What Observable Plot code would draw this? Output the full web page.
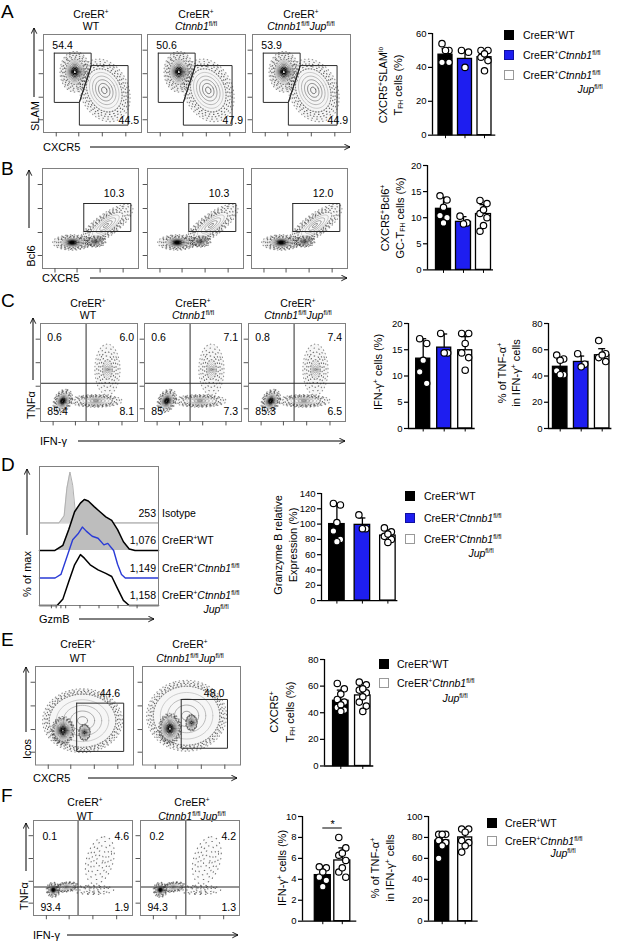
<!DOCTYPE html>
<html><head><meta charset="utf-8">
<script src="https://cdn.jsdelivr.net/npm/d3@7"></script>
<script src="https://cdn.jsdelivr.net/npm/@observablehq/plot@0.6"></script>
<style>
body{margin:0;background:#fff;}
#fig{position:relative;width:617px;height:941px;overflow:hidden;background:#fff;font-family:"Liberation Sans",Arial,sans-serif;color:#000;}
.t{position:absolute;white-space:nowrap;line-height:1;}
.t sup{font-size:0.62em;vertical-align:0.55em;line-height:0;}
.t sub{font-size:0.62em;vertical-align:-0.2em;line-height:0;}
.sq{position:absolute;box-sizing:border-box;border:1px solid #000;}
</style></head>
<body><div id="fig"></div>
<script>
// ---------------- DATA ----------------
const groups3 = ["CreER+WT", "CreER+Ctnnb1fl/fl", "CreER+Ctnnb1fl/fl Jupfl/fl"];
const groups2 = ["CreER+WT", "CreER+Ctnnb1fl/fl Jupfl/fl"];
const colors3 = ["#000000", "#1e1ef0", "#ffffff"];
const colors2 = ["#000000", "#ffffff"];

// Panel A
const aPctHi = ["54.4", "50.6", "53.9"];
const aPctLo = ["44.5", "47.9", "44.9"];
const aMean = [47.5, 45, 46];
const aSD = [3.5, 5, 3];
const aDots = [[54, 50, 50, 43, 43], [50, 49, 40], [50, 50, 48, 46, 44, 38]];
const aGateHi = [[0.11,0.81],[0.486,0.81],[0.486,0.672],[0.366,0.307],[0.11,0.307],[0.11,0.81]];
const aGateLo = [[0.486,0.683],[0.863,0.683],[0.863,0.075],[0.366,0.075],[0.366,0.307],[0.486,0.683]];
const aBlobs = [
  {cx:0.32, cy:0.62, rx:0.095, ry:0.13, a:0, d:1, sp:1.6},
  {cx:0.62, cy:0.43, rx:0.17, ry:0.23, a:25, d:0.45, sp:1.45}
];

// Panel B
const bPct = ["10.3", "10.3", "12.0"];
const bMean = [11.7, 9.2, 10.7];
const bSD = [2.2, 1.0, 1.8];
const bDots = [[14.2, 13.4, 12.0, 10.4, 10.0, 9.0], [10.3, 9.0, 8.8], [13.3, 12.7, 11.5, 10.8, 10.0, 8.5, 7.4]];
const bGate = [[0.43,0.65],[0.92,0.65],[0.92,0.37],[0.43,0.37],[0.43,0.65]];
const bBlobs = [
  {cx:0.31, cy:0.26, rx:0.12, ry:0.045, a:0, d:1, sp:1.7},
  {cx:0.55, cy:0.27, rx:0.07, ry:0.035, a:0, d:0.6, sp:1.6},
  {cx:0.66, cy:0.43, rx:0.21, ry:0.07, a:35, d:0.3, sp:1.6}
];

// Panel C
const cQuad = [["0.6","6.0","85.4","8.1"], ["0.6","7.1","85","7.3"], ["0.8","7.4","85.3","6.5"]];
const cIfnMean = [13.3, 15.4, 14.9];
const cIfnSD = [3.8, 2.6, 2.6];
const cIfnDots = [[17.1, 16.2, 13.0, 10.8, 8.6], [18.1, 14.4, 14.4], [18.1, 18.1, 16.2, 14.4, 13.5, 11.1]];
const cTnfMean = [47, 50.7, 55.8];
const cTnfSD = [5.5, 4.5, 5];
const cTnfDots = [[56, 53, 52, 44, 41, 41], [57, 49, 47], [67, 57, 56, 54, 51]];
const cBlobs = [
  {cx:0.23, cy:0.21, rx:0.06, ry:0.085, a:-30, d:1, sp:1.5},
  {cx:0.57, cy:0.21, rx:0.17, ry:0.04, a:0, d:0.35, sp:1.6},
  {cx:0.69, cy:0.53, rx:0.05, ry:0.1, a:0, d:0.35, sp:2.6}
];

// Panel D (GzmB histograms: [GzmB position %, % of max])
const histIsotype = [[0,0],[16.4,0],[20.7,14],[23,68],[25.6,100],[27.9,74],[30.2,20],[32.8,3],[36.1,0],[100,0]];
const histWT = [[0,0],[13,0],[19.7,10],[24.6,41],[29.5,76],[34.4,93],[37.7,100],[41,97],[45.9,86],[50.8,76],[55.7,66],[60.7,59],[65.6,41],[70.5,17],[75.4,3],[80.3,0],[100,0]];
const histCtnnb1 = [[0,0],[13.1,0],[18,7],[23,41],[27.9,75],[32.8,88],[36,100],[39.3,92],[44.3,82],[49.2,78],[54.1,65],[57.4,68],[62.3,54],[65.6,27],[68.9,7],[72.1,0],[100,0]];
const histJup = [[0,0],[14.8,0],[19.7,13],[24.6,47],[29.5,80],[34.4,100],[37.7,93],[42.6,80],[49.2,70],[55.7,63],[60.7,57],[65.6,33],[70.5,10],[75.4,0],[100,0]];
const histMFI = ["253", "1,076", "1,149", "1,158"];
const dMean = [100, 99, 85];
const dSD = [25, 9, 7];
const dDots = [[127, 125, 102, 91, 80, 77], [112, 94, 94], [95, 90, 87, 84, 80, 76]];

// Panel E
const ePct = ["44.6", "48.0"];
const eMean = [49, 53];
const eSD = [8, 6.5];
const eDots = [[62, 58, 54, 50, 48, 46, 44, 42, 41], [63, 61, 58, 57, 55, 52, 48, 45, 41]];
const eGates = [
  [[0.42,0.628],[0.9,0.628],[0.9,0.138],[0.42,0.138],[0.42,0.628]],
  [[0.395,0.665],[0.867,0.665],[0.867,0.17],[0.395,0.17],[0.395,0.665]]
];
const eBlobs = [
  [{cx:0.48, cy:0.45, rx:0.34, ry:0.27, a:0, d:0.25, sp:1.2},
   {cx:0.28, cy:0.35, rx:0.09, ry:0.11, a:0, d:1, sp:1.3},
   {cx:0.5, cy:0.33, rx:0.05, ry:0.07, a:0, d:0.7, sp:1.2}],
  [{cx:0.45, cy:0.5, rx:0.34, ry:0.3, a:0, d:0.25, sp:1.2},
   {cx:0.28, cy:0.37, rx:0.09, ry:0.12, a:0, d:1, sp:1.3},
   {cx:0.5, cy:0.43, rx:0.05, ry:0.07, a:0, d:0.7, sp:1.2}]
];

// Panel F
const fQuad = [["0.1","4.6","93.4","1.9"], ["0.2","4.2","94.3","1.3"]];
const fIfnMean = [4.4, 5.8];
const fIfnSD = [0.6, 1.2];
const fIfnDots = [[5.2, 5.1, 4.7, 4.2, 3.9, 3.3], [8.0, 7.0, 6.5, 6.3, 5.8, 5.1, 4.7, 4.2]];
const fTnfMean = [77, 80];
const fTnfSD = [8, 7];
const fTnfDots = [[83, 83, 83, 77, 75, 72, 60], [88, 88, 85, 77, 75, 72, 66]];
const fBlobs = [
  {cx:0.2, cy:0.27, rx:0.045, ry:0.05, a:0, d:1, sp:1.6},
  {cx:0.33, cy:0.3, rx:0.08, ry:0.035, a:10, d:0.3, sp:1.5},
  {cx:0.67, cy:0.58, rx:0.09, ry:0.17, a:-15, d:0.05, sp:1.5},
  {cx:0.6, cy:0.27, rx:0.15, ry:0.035, a:0, d:0.05, sp:1.4}
];

// ---------------- HELPERS ----------------
const fig = document.getElementById("fig");
const FONT = '"Liberation Sans", Arial, sans-serif';
const plotStyle = {fontFamily: FONT, fontSize: "9.5px", background: "transparent", overflow: "visible", color: "#000"};

function place(node, left, top) {
  node.style.position = "absolute";
  node.style.left = left + "px";
  node.style.top = top + "px";
  fig.appendChild(node);
  return node;
}
function txt(x, y, html, o = {}) {
  const d = document.createElement("div");
  d.className = "t";
  d.innerHTML = html;
  d.style.fontSize = (o.size || 10.5) + "px";
  const tx = o.anchor === "start" ? "0" : o.anchor === "end" ? "-100%" : "-50%";
  d.style.left = x + "px";
  d.style.top = y + "px";
  d.style.transform = `translate(${tx},-50%)` + (o.rotate ? ` rotate(${o.rotate}deg)` : "");
  fig.appendChild(d);
}
function legendRow(sx, tx, y, size, fill, border, html) {
  const d = document.createElement("div");
  d.className = "sq";
  Object.assign(d.style, {left: sx + "px", top: (y - size / 2) + "px", width: size + "px", height: size + "px", background: fill, borderColor: border});
  fig.appendChild(d);
  txt(tx, y, html, {anchor: "start", size: 10.5});
}

function ring(b, s, t0 = 0) {
  const pts = [];
  const A = b.a * Math.PI / 180;
  for (let k = 0; k <= 60; k++) {
    const t = t0 + k / 60 * 2 * Math.PI;
    const ex = s * b.rx * Math.cos(t), ey = s * b.ry * Math.sin(t);
    pts.push({x: b.cx + ex * Math.cos(A) - ey * Math.sin(A), y: b.cy + ex * Math.sin(A) + ey * Math.cos(A)});
  }
  return pts;
}
const speckle = [
  {gap: 2.3, t0: 0.0, op: 0.9},
  {gap: 3.7, t0: 1.1, op: 0.8},
  {gap: 2.9, t0: 2.3, op: 0.75},
  {gap: 4.3, t0: 0.6, op: 0.65},
  {gap: 3.3, t0: 1.9, op: 0.55}
];
function blobMarks(b) {
  const marks = [];
  const sp = b.sp;
  const sparse = b.d < 0.1;
  marks.push(Plot.line(ring(b, sp), {x: "x", y: "y", fill: "#000", fillOpacity: sparse ? 0.02 : 0.025 + 0.035 * b.d, stroke: "none", clip: true}));
  const s0 = sparse ? 0.35 : 1.0;
  speckle.forEach((p, q) => {
    const s = s0 + (sp - s0) * q / (speckle.length - 1);
    marks.push(Plot.line(ring(b, s, p.t0), {x: "x", y: "y", stroke: "#3a3a3a", strokeWidth: 1.1,
      strokeDasharray: `0.55 ${sparse ? p.gap + 1.5 : p.gap}`, strokeOpacity: sparse ? 0.7 : p.op, clip: true}));
  });
  if (!sparse) {
    const n = Math.round(3 + 6 * b.d);
    const dark = d3.interpolateRgb("#8a8a8a", "#000")(b.d);
    for (let l = 0; l < n; l++) {
      const f = n > 1 ? l / (n - 1) : 1;
      marks.push(Plot.line(ring(b, 1 - f * 0.85), {x: "x", y: "y", stroke: d3.interpolateRgb("#c0c0c0", dark)(f), strokeWidth: 0.5 + 0.8 * b.d * f, clip: true}));
    }
  }
  return marks;
}

const fTicks = [0.13, 0.36, 0.6, 0.84];
function flowPlot(f) {
  const ml = 6, mr = 1, mt = 1, mb = 6;
  const marks = [];
  for (const b of f.blobs) marks.push(...blobMarks(b));
  if (f.gates) for (const g of f.gates) marks.push(Plot.line(g, {x: d => d[0], y: d => d[1], stroke: "#2b2b2b", strokeWidth: 1}));
  if (f.quad) {
    marks.push(Plot.ruleX([f.quad[0]], {y1: 0, y2: 1, stroke: "#2b2b2b", strokeWidth: 1}));
    marks.push(Plot.ruleY([f.quad[1]], {x1: 0, x2: 1, stroke: "#2b2b2b", strokeWidth: 1}));
  }
  for (const anchor of ["start", "middle", "end"]) {
    const L = f.labels.filter(d => d.anchor === anchor);
    if (L.length) marks.push(Plot.text(L, {x: "x", y: "y", text: "t", textAnchor: anchor, fontSize: 10.5, fill: "#000"}));
  }
  marks.push(Plot.frame({stroke: "#808080", strokeWidth: 1}));
  marks.push(Plot.ruleX(fTicks, {y1: 0, y2: -0.045, stroke: "#555"}));
  marks.push(Plot.ruleY(fTicks, {x1: 0, x2: -0.045, stroke: "#555"}));
  const svg = Plot.plot({
    width: f.w + ml + mr, height: f.h + mt + mb,
    marginLeft: ml, marginRight: mr, marginTop: mt, marginBottom: mb,
    x: {domain: [0, 1], axis: null}, y: {domain: [0, 1], axis: null},
    style: plotStyle, marks
  });
  place(svg, f.left - ml, f.top - mt);
}

function barChart(c) {
  const n = c.means.length;
  const k = (c.centers[n - 1] - c.centers[0]) / (n - 1);
  const lo = 1 - (c.centers[0] - c.ax) / k;
  const hi = lo + (c.xe - c.ax) / k;
  const ml = 26, mr = 3, mt = 8, mb = 6;
  const innerH = c.y0 - c.yTop;
  const ppu = innerH / c.ymax;
  const rows = c.means.map((m, i) => ({i: i + 1, m, sd: c.sds[i]}));
  const hw = c.bw / 2 / k, cap = 3.5 / k;
  const dots = [];
  c.dots.forEach((arr, i) => arr.forEach((v, j) => dots.push({i: i + 1, v, j})));
  const jit = [-3.5, 3.5, 0];
  const marks = [];
  rows.forEach((r, idx) => marks.push(Plot.rectY([r], {x1: d => d.i - hw, x2: d => d.i + hw, y1: 0, y2: "m", fill: c.colors[idx], stroke: "#000", strokeWidth: 1.3})));
  marks.push(Plot.ruleX(rows, {x: "i", y1: "m", y2: d => d.m + d.sd, strokeWidth: 1.3}));
  marks.push(Plot.ruleY(rows, {y: d => d.m + d.sd, x1: d => d.i - cap, x2: d => d.i + cap, strokeWidth: 1.3}));
  if (c.sig) {
    marks.push(Plot.ruleY([c.sig.y], {x1: 1, x2: 2, strokeWidth: 1}));
    marks.push(Plot.text([c.sig.text], {x: 1.5, y: c.sig.y, text: d => d, dy: -4, fontSize: 11}));
  }
  jit.forEach((dx, q) => marks.push(Plot.dot(dots.filter(d => d.j % 3 === q), {x: "i", y: "v", dx, r: 3.2, fill: "#fff", stroke: "#000", strokeWidth: 1.2})));
  marks.push(Plot.ruleX([lo], {y1: 0, y2: c.ymax, strokeWidth: 1.3}));
  marks.push(Plot.ruleY([0], {x1: lo, x2: hi, strokeWidth: 1.3}));
  marks.push(Plot.ruleX(rows, {x: "i", y1: 0, y2: -3.5 / ppu, strokeWidth: 1}));
  marks.push(Plot.axisY({ticks: c.ticks, tickSize: 4, tickPadding: 2, label: null, tickFormat: d => String(d), strokeWidth: 1.2}));
  const svg = Plot.plot({
    width: ml + (c.xe - c.ax) + mr, height: mt + innerH + mb,
    marginLeft: ml, marginRight: mr, marginTop: mt, marginBottom: mb,
    x: {domain: [lo, hi], axis: null}, y: {domain: [0, c.ymax]},
    style: plotStyle, marks
  });
  place(svg, c.ax - ml, c.yTop - mt);
}

function histPlot() {
  const left = 39, top = 466, w = 119, h = 139;
  const ml = 1, mr = 1, mt = 1, mb = 6;
  const H = 1.85;
  const rowsOf = (arr, base) => arr.map(([x, p]) => ({x, base, y: base + p / 100 * H}));
  const iso = rowsOf(histIsotype, 3), wt = rowsOf(histWT, 2), ct = rowsOf(histCtnnb1, 1), jp = rowsOf(histJup, 0);
  const marks = [
    Plot.ruleY([3], {x1: 0, x2: 100, stroke: "#bdbdbd"}),
    Plot.areaY(iso, {x: "x", y1: "base", y2: "y", fill: "#d4d4d4"}),
    Plot.line(iso, {x: "x", y: "y", stroke: "#b0b0b0", strokeWidth: 1}),
    Plot.areaY(wt, {x: "x", y1: "base", y2: "y", fill: "#bdbdbd"}),
    Plot.line(wt, {x: "x", y: "y", stroke: "#000", strokeWidth: 1.5}),
    Plot.line(ct, {x: "x", y: "y", stroke: "#2a3bd6", strokeWidth: 1.4}),
    Plot.line(jp, {x: "x", y: "y", stroke: "#000", strokeWidth: 1.5}),
    Plot.frame({stroke: "#808080"}),
    Plot.ruleX([10, 14, 18, 22, 34, 50, 66, 82], {y1: 0, y2: -0.12, stroke: "#555"})
  ];
  const svg = Plot.plot({
    width: w + ml + mr, height: h + mt + mb,
    marginLeft: ml, marginRight: mr, marginTop: mt, marginBottom: mb,
    x: {domain: [0, 100], axis: null}, y: {domain: [0, 5.05], axis: null},
    style: plotStyle, marks
  });
  place(svg, left - ml, top - mt);
}

// overlay for axis arrows
const ov = d3.create("svg").attr("width", 617).attr("height", 941)
  .style("position", "absolute").style("left", "0px").style("top", "0px").style("pointer-events", "none");
ov.append("defs").append("marker").attr("id", "ah").attr("viewBox", "0 0 8 8").attr("refX", 7).attr("refY", 4)
  .attr("markerWidth", 7).attr("markerHeight", 7).attr("orient", "auto")
  .append("path").attr("d", "M0.5,0.8 L7,4 L0.5,7.2").attr("fill", "none").attr("stroke", "#000").attr("stroke-width", 1);
function arrow(x1, y1, x2, y2) {
  ov.append("line").attr("x1", x1).attr("y1", y1).attr("x2", x2).attr("y2", y2)
    .attr("stroke", "#000").attr("stroke-width", 1).attr("marker-end", "url(#ah)");
}

const CT = "<i>Ctnnb1</i><sup>fl/fl</sup>";
const JP = "<i>Jup</i><sup>fl/fl</sup>";
const CRE = "CreER<sup>+</sup>";

// ---------------- PANEL A ----------------
txt(1, 11, "A", {anchor: "start", size: 19});
[91, 196, 301].forEach((x, i) => {
  txt(x, 13.5, CRE);
  txt(x, 25.5, ["WT", CT, CT + JP][i]);
});
[43, 147, 252].forEach((left, i) => flowPlot({
  left, top: 34, w: 98, h: 98, blobs: aBlobs, gates: [aGateHi, aGateLo],
  labels: [{x: 0.09, y: 0.885, t: aPctHi[i], anchor: "start"}, {x: 0.975, y: 0.12, t: aPctLo[i], anchor: "end"}]
}));
txt(35, 116, "SLAM", {size: 11, rotate: -90});
arrow(34, 97, 34, 28);
txt(43, 147, "CXCR5", {anchor: "start", size: 11});
arrow(90, 147, 350, 147);
barChart({ax: 431.7, xe: 495, centers: [444.7, 464, 483.7], bw: 14, yTop: 33.3, y0: 135, ymax: 60, ticks: [0, 20, 40, 60],
  means: aMean, sds: aSD, dots: aDots, colors: colors3});
txt(383, 85, "CXCR5<sup>+</sup>SLAM<sup>lo</sup>", {size: 11, rotate: -90});
txt(398, 85, "T<sub>FH</sub> cells (%)", {size: 11, rotate: -90});
legendRow(504, 523, 35, 9.5, colors3[0], "#000", CRE + "WT");
legendRow(504, 523, 55, 9.5, colors3[1], "#1010a0", CRE + CT);
legendRow(504, 523, 75, 9.5, colors3[2], "#999", CRE + CT);
txt(590, 89, JP);

// ---------------- PANEL B ----------------
txt(1, 168, "B", {anchor: "start", size: 19});
[42, 147, 251].forEach((left, i) => flowPlot({
  left, top: 168, w: 96, h: 100, blobs: bBlobs, gates: [bGate],
  labels: [{x: 0.745, y: 0.75, t: bPct[i], anchor: "middle"}]
}));
txt(31, 256, "Bcl6", {size: 11, rotate: -90});
arrow(29, 228, 29, 170);
txt(42, 278, "CXCR5", {anchor: "start", size: 11});
arrow(90, 278, 347, 278);
barChart({ax: 427, xe: 493, centers: [443, 463, 483], bw: 15, yTop: 164.6, y0: 269, ymax: 20, ticks: [0, 5, 10, 15, 20],
  means: bMean, sds: bSD, dots: bDots, colors: colors3});
txt(385, 218, "CXCR5<sup>+</sup>Bcl6<sup>+</sup>", {size: 11, rotate: -90});
txt(400, 218, "GC-T<sub>FH</sub> cells (%)", {size: 11, rotate: -90});

// ---------------- PANEL C ----------------
txt(1, 300, "C", {anchor: "start", size: 19});
[88, 193, 298].forEach((x, i) => {
  txt(x, 303, CRE);
  txt(x, 315, ["WT", CT, CT + JP][i]);
});
[40, 144, 248].forEach((left, i) => flowPlot({
  left, top: 323, w: 97, h: 98, blobs: cBlobs, quad: [0.47, 0.39],
  labels: [{x: 0.07, y: 0.86, t: cQuad[i][0], anchor: "start"}, {x: 0.965, y: 0.86, t: cQuad[i][1], anchor: "end"},
           {x: 0.07, y: 0.1, t: cQuad[i][2], anchor: "start"}, {x: 0.965, y: 0.1, t: cQuad[i][3], anchor: "end"}]
}));
txt(31, 405, "TNFα", {size: 11, rotate: -90});
arrow(33, 380, 33, 318);
txt(40, 441, "IFN-γ", {anchor: "start", size: 11});
arrow(78, 441, 345, 441);
barChart({ax: 408.3, xe: 475, centers: [423, 444.3, 465], bw: 14, yTop: 323.3, y0: 428.3, ymax: 20, ticks: [0, 5, 10, 15, 20],
  means: cIfnMean, sds: cIfnSD, dots: cIfnDots, colors: colors3});
txt(378, 372, "IFN-γ<sup>+</sup> cells (%)", {size: 11, rotate: -90});
barChart({ax: 548.3, xe: 611.7, centers: [560, 581, 602], bw: 14.5, yTop: 323.3, y0: 428.3, ymax: 80, ticks: [0, 20, 40, 60, 80],
  means: cTnfMean, sds: cTnfSD, dots: cTnfDots, colors: colors3});
txt(502, 373, "% of TNF-α<sup>+</sup>", {size: 11, rotate: -90});
txt(516, 373, "in IFN-γ<sup>+</sup> cells", {size: 11, rotate: -90});

// ---------------- PANEL D ----------------
txt(1, 464, "D", {anchor: "start", size: 19});
histPlot();
[513, 540, 567.5, 595].forEach((y, i) => txt(156, y, histMFI[i], {anchor: "end"}));
txt(162, 513, "Isotype", {anchor: "start"});
txt(162, 540, CRE + "WT", {anchor: "start"});
txt(162, 567.5, CRE + CT, {anchor: "start"});
txt(162, 595, CRE + CT, {anchor: "start"});
txt(216, 609, JP);
txt(27, 574, "% of max", {size: 11, rotate: -90});
arrow(27, 535, 27, 469);
txt(39, 619, "GzmB", {anchor: "start", size: 11});
arrow(79, 619, 154, 619);
barChart({ax: 320.6, xe: 397, centers: [336, 361.5, 387], bw: 15.5, yTop: 492.7, y0: 599.8, ymax: 140, ticks: [0, 20, 40, 60, 80, 100, 120, 140],
  means: dMean, sds: dSD, dots: dDots, colors: colors3});
txt(278, 545, "Granzyme B relative", {size: 11, rotate: -90});
txt(293, 545, "Expression (%)", {size: 11, rotate: -90});
legendRow(405, 424, 496, 10, colors3[0], "#000", CRE + "WT");
legendRow(405, 424, 517.5, 10, colors3[1], "#1010a0", CRE + CT);
legendRow(405, 424, 539, 10, colors3[2], "#999", CRE + CT);
txt(481, 553, JP);

// ---------------- PANEL E ----------------
txt(1, 639, "E", {anchor: "start", size: 19});
[78, 190].forEach((x, i) => {
  txt(x, 644, CRE);
  txt(x, 657.5, ["WT", CT + JP][i]);
});
[35, 141.5].forEach((left, i) => flowPlot({
  left, top: 666, w: 98, h: 98.5, blobs: eBlobs[i], gates: [eGates[i]],
  labels: [{x: [0.76, 0.73][i], y: 0.72, t: ePct[i], anchor: "middle"}]
}));
txt(27, 749, "Icos", {size: 11, rotate: -90});
arrow(26, 732, 26, 667);
txt(33, 778, "CXCR5", {anchor: "start", size: 11});
arrow(88, 778, 237, 778);
barChart({ax: 323.7, xe: 373, centers: [340, 362], bw: 15.5, yTop: 659, y0: 765.5, ymax: 80, ticks: [0, 20, 40, 60, 80],
  means: eMean, sds: eSD, dots: eDots, colors: colors2});
txt(274, 712, "CXCR5<sup>+</sup>", {size: 11, rotate: -90});
txt(290, 712, "T<sub>FH</sub> cells (%)", {size: 11, rotate: -90});
legendRow(379, 397, 663.5, 10, colors2[0], "#000", CRE + "WT");
legendRow(379, 397, 683, 10, colors2[1], "#999", CRE + CT);
txt(455, 698, JP);

// ---------------- PANEL F ----------------
txt(1, 795, "F", {anchor: "start", size: 19});
[85, 192].forEach((x, i) => {
  txt(x, 802, CRE);
  txt(x, 816, ["WT", CT + JP][i]);
});
[33, 140].forEach((left, i) => flowPlot({
  left, top: 820, w: 99, h: 95, blobs: fBlobs, quad: [[0.45, 0.458][i], 0.3],
  labels: [{x: 0.09, y: 0.83, t: fQuad[i][0], anchor: "start"}, {x: 0.965, y: 0.83, t: fQuad[i][1], anchor: "end"},
           {x: 0.07, y: 0.08, t: fQuad[i][2], anchor: "start"}, {x: 0.965, y: 0.08, t: fQuad[i][3], anchor: "end"}]
}));
txt(24, 896, "TNFα", {size: 11, rotate: -90});
arrow(26, 871, 26, 823);
txt(33, 935, "IFN-γ", {anchor: "start", size: 11});
arrow(67, 935, 238, 935);
barChart({ax: 301.7, xe: 356, centers: [322, 341.5], bw: 16, yTop: 816, y0: 920.7, ymax: 10, ticks: [0, 2, 4, 6, 8, 10],
  means: fIfnMean, sds: fIfnSD, dots: fIfnDots, colors: colors2, sig: {y: 8.9, text: "*"}});
txt(282, 868, "IFN-γ<sup>+</sup> cells (%)", {size: 11, rotate: -90});
barChart({ax: 428.3, xe: 478, centers: [442, 465], bw: 14, yTop: 816, y0: 920.7, ymax: 100, ticks: [0, 20, 40, 60, 80, 100],
  means: fTnfMean, sds: fTnfSD, dots: fTnfDots, colors: colors2});
txt(375, 868, "% of TNF-α<sup>+</sup>", {size: 11, rotate: -90});
txt(390, 868, "in IFN-γ<sup>+</sup> cells", {size: 11, rotate: -90});
legendRow(487, 505, 823, 10, colors2[0], "#000", CRE + "WT");
legendRow(487, 505, 841, 10, colors2[1], "#999", CRE + CT);
txt(563, 853, JP);

fig.appendChild(ov.node());
</script>
</body></html>
